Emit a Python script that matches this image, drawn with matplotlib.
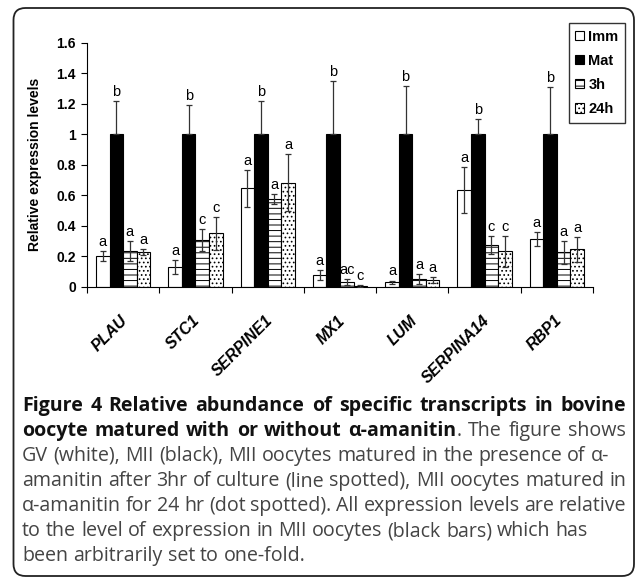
import matplotlib
matplotlib.use('Agg')
import matplotlib.pyplot as plt
import numpy as np
from matplotlib.patches import FancyBboxPatch, Patch
from matplotlib.transforms import ScaledTranslation

# values
genes = ['PLAU', 'STC1', 'SERPINE1', 'MX1', 'LUM', 'SERPINA14', 'RBP1']
groups = ['Imm', 'Mat', '3h', '24h']

imm = [0.20, 0.126, 0.644, 0.075, 0.027, 0.633, 0.31]
imm_err = [0.033, 0.045, 0.12, 0.033, 0.012, 0.15, 0.045]
mat = [1, 1, 1, 1, 1, 1, 1]
mat_err = [0.22, 0.19, 0.22, 0.35, 0.32, 0.10, 0.31]
h3 = [0.233, 0.305, 0.574, 0.03, 0.047, 0.272, 0.224]
h3_err = [0.065, 0.07, 0.035, 0.02, 0.032, 0.06, 0.075]
h24 = [0.226, 0.349, 0.683, 0.005, 0.043, 0.231, 0.244]
h24_err = [0.022, 0.11, 0.185, 0.005, 0.018, 0.10, 0.08]

let_imm = ['a', 'a', 'a', 'a', 'a', 'a', 'a']
let_mat = ['b', 'b', 'b', 'b', 'b', 'b', 'b']
let_3h = ['a', 'c', 'a', 'ac', 'a', 'c', 'a']
let_24h = ['a', 'c', 'a', 'c', 'a', 'c', 'a']

caption = [
    [("Figure 4 Relative abundance of specific transcripts in bovine", True)],
    [("oocyte matured with or without \u03b1-amanitin", True), (". The figure shows", False)],
    [("GV (white), MII (black), MII oocytes matured in the presence of \u03b1-", False)],
    [("amanitin after 3hr of culture (line spotted), MII oocytes matured in", False)],
    [("\u03b1-amanitin for 24 hr (dot spotted). All expression levels are relative", False)],
    [("to the level of expression in MII oocytes (black bars) which has", False)],
    [("been arbitrarily set to one-fold.", False)],
]
justify = [True, True, False, True, True, False, False]

plt.rcParams['font.family'] = ['Liberation Sans', 'DejaVu Sans']
plt.rcParams['hatch.linewidth'] = 0.7

W, H = 637, 579
fig = plt.figure(figsize=(W / 100, H / 100), dpi=100)
ax = fig.add_axes([87 / W, 1 - 286.5 / H, (593 - 87) / W, (286.5 - 43) / H])

x = np.arange(len(genes)) + 0.5
bw = 0.1875
series = [(imm, imm_err, let_imm, 'white', None),
          (mat, mat_err, let_mat, 'black', None),
          (h3, h3_err, let_3h, 'white', '---'),
          (h24, h24_err, let_24h, 'white', '....')]

handles = []
for k, (vals, errs, labs, fc, hatch) in enumerate(series):
    pos = x + (k - 1.5) * bw
    ax.bar(pos, vals, bw, color=fc, edgecolor='black', linewidth=0.8, hatch=hatch, zorder=2)
    if fc == 'black':
        # lower half sits inside the black bar, only the upper one shows
        yerr = [np.zeros(len(errs)), errs]
    else:
        yerr = errs
    ax.errorbar(pos, vals, yerr=yerr, fmt='none', ecolor='#333333', elinewidth=0.9,
                capsize=2.5, capthick=0.9, zorder=3)
    for p, v, e, l in zip(pos, vals, errs, labs):
        ax.annotate(l, (p, v + e), xytext=(0, 1.5), textcoords='offset points',
                    ha='center', va='bottom', fontsize=10.5)
    handles.append(Patch(facecolor=fc, edgecolor='black', hatch=hatch, linewidth=0.8))

ax.set_xlim(0, 7)
ax.set_ylim(0, 1.6)
yt = np.arange(0, 1.61, 0.2)
ax.set_yticks(yt)
ax.set_yticklabels(['%g' % round(v, 1) for v in yt], fontweight='bold', fontsize=10)
ax.tick_params(axis='y', direction='out', length=4, width=0.8, pad=4)
for s in ['top', 'right']:
    ax.spines[s].set_visible(False)
for s in ['left', 'bottom']:
    ax.spines[s].set_linewidth(0.8)

ax.set_xticks(np.arange(0, 8), minor=True)
ax.tick_params(axis='x', which='minor', direction='out', length=4, width=0.8)
ax.set_xticks(x)
ax.set_xticklabels(genes, rotation=45, ha='right', va='top', rotation_mode='anchor',
                   fontweight='bold', fontstyle='italic', fontsize=11.5)
ax.tick_params(axis='x', which='major', length=0, pad=19)
for lab in ax.get_xticklabels():
    lab.set_transform(lab.get_transform() + ScaledTranslation(-0.03, 0, fig.dpi_scale_trans))

ax.set_ylabel('Relative expression levels', fontweight='bold', fontsize=10)
ax.yaxis.set_label_coords(-0.089, 0.5)

leg = fig.legend(handles, groups, loc='upper right', bbox_to_anchor=(625 / W, 1 - 23 / H),
                 frameon=True, fancybox=False, edgecolor='black',
                 prop=dict(weight='bold', size=10.5), handlelength=0.6, handleheight=0.6,
                 handletextpad=0.3, labelspacing=0.7, borderpad=0.45, borderaxespad=0)
leg.get_frame().set_linewidth(1.0)

# rounded frame round the whole panel
border = FancyBboxPatch((0.135, 0.03), 6.205, 5.68, boxstyle='round,pad=0,rounding_size=0.12',
                        transform=fig.dpi_scale_trans, fill=False, edgecolor='#222222',
                        linewidth=1.3)
fig.add_artist(border)

# caption
cap_font = ['Open Sans', 'DejaVu Sans']
renderer = fig.canvas.get_renderer()


def text_width(txt, bold, size):
    t = fig.text(0, 0, txt, fontsize=size, fontweight='bold' if bold else 'normal', family=cap_font)
    w = t.get_window_extent(renderer).width
    t.remove()
    return w


def tokens(line):
    words = []
    for seg, bold in line:
        parts = seg.split(' ')
        for i, p in enumerate(parts):
            if p == '':
                continue
            glue = (i == 0 and not seg.startswith(' ') and len(words) > 0)
            if glue:
                words[-1].append((p, bold))
            else:
                words.append([(p, bold)])
    return words


base = 12
w3 = text_width(caption[2][0][0], False, base)
size = base * 586 / w3

x0, x1 = 22, 626
baselines = [411, 436, 461, 486, 511, 536, 561]
for line, just, yb in zip(caption, justify, baselines):
    words = tokens(line)
    widths = [[text_width(p, b, size) for p, b in w] for w in words]
    total = sum(sum(ws) for ws in widths)
    space = text_width('a a', False, size) - text_width('aa', False, size)
    gap = space
    if just and len(words) > 1:
        gap = max((x1 - x0 - total) / (len(words) - 1), space * 0.5)
    cx = x0
    for w, ws in zip(words, widths):
        for (p, b), pw in zip(w, ws):
            fig.text(cx / W, 1 - yb / H, p, fontsize=size, family=cap_font,
                     fontweight='bold' if b else 'normal',
                     color='#111111' if b else '#444444', va='baseline', ha='left')
            cx += pw
        cx += gap

fig.savefig('out.png', dpi=100)
